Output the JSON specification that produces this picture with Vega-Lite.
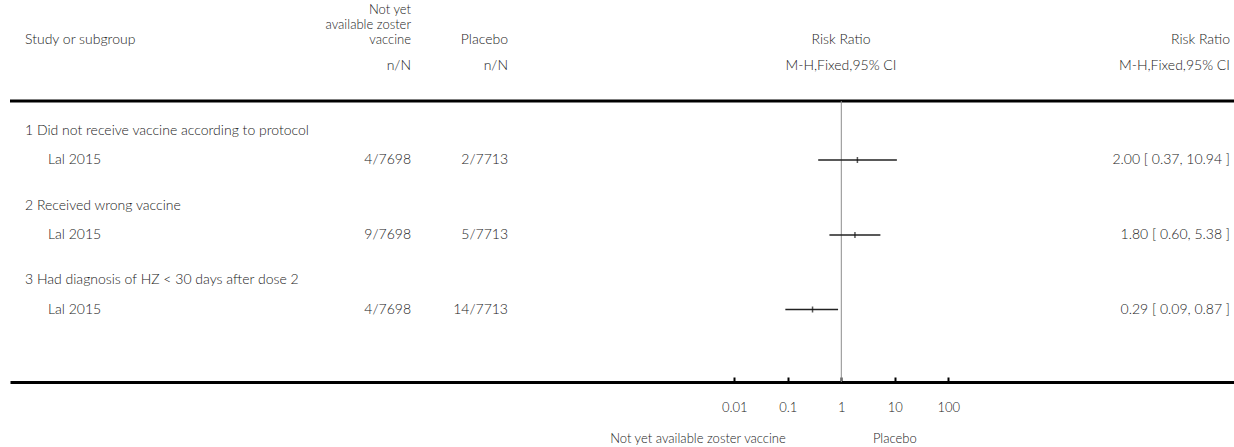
{
  "$schema": "https://vega.github.io/schema/vega-lite/v6.json",
  "width": 1224,
  "height": 447,
  "autosize": {"type": "none"},
  "padding": {"left": 10, "top": 0, "right": 0, "bottom": 0},
  "background": "white",
  "config": {
    "view": {"stroke": null},
    "text": {"font": "Lato", "fontSize": 14, "fontWeight": 300, "color": "#222"}
  },
  "datasets": {
    "header": [
      {"line": 0, "study": "Study or subgroup", "vac": "Not yet\navailable zoster\nvaccine", "pla": "Placebo", "rr": "Risk Ratio", "rr2": "Risk Ratio"},
      {"line": 1, "study": "", "vac": "n/N", "pla": "n/N", "rr": "M-H,Fixed,95% CI", "rr2": "M-H,Fixed,95% CI"}
    ],
    "body": [
      {"line": 3, "kind": "group", "label": "1 Did not receive vaccine according to protocol"},
      {"line": 4, "kind": "study", "label": "Lal 2015", "vac": "4/7698", "pla": "2/7713", "rr": 2.00, "lo": 0.37, "hi": 10.94, "ci": "2.00 [ 0.37, 10.94 ]"},
      {"line": 5, "kind": "group", "label": "2 Received wrong vaccine"},
      {"line": 6, "kind": "study", "label": "Lal 2015", "vac": "9/7698", "pla": "5/7713", "rr": 1.80, "lo": 0.60, "hi": 5.38, "ci": "1.80 [ 0.60, 5.38 ]"},
      {"line": 7, "kind": "group", "label": "3 Had diagnosis of HZ < 30 days after dose 2"},
      {"line": 8, "kind": "study", "label": "Lal 2015", "vac": "4/7698", "pla": "14/7713", "rr": 0.29, "lo": 0.09, "hi": 0.87, "ci": "0.29 [ 0.09, 0.87 ]"}
    ],
    "favours": [
      {"side": "left", "label": "Not yet available zoster vaccine"},
      {"side": "right", "label": "Placebo"}
    ]
  },
  "layer": [
    {
      "layer": [
        {"data": {"name": "header"}, "mark": {"type": "text", "align": "left", "baseline": "middle"},
         "encoding": {
           "x": {"datum": 1, "type": "quantitative", "axis": null, "scale": {"domain": [0,1,2,3,4,5,6,7], "range": [0,15,38,401,498,831,1220,1224], "zero": false, "nice": false}},
           "y": {"field": "line", "type": "quantitative", "axis": null, "scale": {"domain": [0,1,2,3,4,5,6,7,8,9,10,11], "range": [40,66,101,131,160,205.5,235,280,309.5,382,408,439], "zero": false, "nice": false}},
           "text": {"field": "study"}}},
        {"data": {"name": "header"}, "transform": [{"filter": "datum.line == 0"}], "mark": {"type": "text", "align": "right", "baseline": "middle", "dy": -30, "fontSize": 13, "lineBreak": "\n", "lineHeight": 15},
         "encoding": {"x": {"datum": 3, "type": "quantitative"}, "y": {"field": "line", "type": "quantitative"}, "text": {"field": "vac"}}},
        {"data": {"name": "header"}, "transform": [{"filter": "datum.line == 1"}], "mark": {"type": "text", "align": "right", "baseline": "middle"},
         "encoding": {"x": {"datum": 3, "type": "quantitative"}, "y": {"field": "line", "type": "quantitative"}, "text": {"field": "vac"}}},
        {"data": {"name": "header"}, "mark": {"type": "text", "align": "right", "baseline": "middle"},
         "encoding": {"x": {"datum": 4, "type": "quantitative"}, "y": {"field": "line", "type": "quantitative"}, "text": {"field": "pla"}}},
        {"data": {"name": "header"}, "mark": {"type": "text", "align": "center", "baseline": "middle"},
         "encoding": {"x": {"datum": 5, "type": "quantitative"}, "y": {"field": "line", "type": "quantitative"}, "text": {"field": "rr"}}},
        {"data": {"name": "header"}, "mark": {"type": "text", "align": "right", "baseline": "middle"},
         "encoding": {"x": {"datum": 6, "type": "quantitative"}, "y": {"field": "line", "type": "quantitative"}, "text": {"field": "rr2"}}},
        {"data": {"name": "body"}, "transform": [{"filter": "datum.kind == 'group'"}], "mark": {"type": "text", "align": "left", "baseline": "middle"},
         "encoding": {"x": {"datum": 1, "type": "quantitative"}, "y": {"field": "line", "type": "quantitative"}, "text": {"field": "label"}}},
        {"data": {"name": "body"}, "transform": [{"filter": "datum.kind == 'study'"}], "mark": {"type": "text", "align": "left", "baseline": "middle"},
         "encoding": {"x": {"datum": 2, "type": "quantitative"}, "y": {"field": "line", "type": "quantitative"}, "text": {"field": "label"}}},
        {"data": {"name": "body"}, "transform": [{"filter": "datum.kind == 'study'"}], "mark": {"type": "text", "align": "right", "baseline": "middle"},
         "encoding": {"x": {"datum": 3, "type": "quantitative"}, "y": {"field": "line", "type": "quantitative"}, "text": {"field": "vac"}}},
        {"data": {"name": "body"}, "transform": [{"filter": "datum.kind == 'study'"}], "mark": {"type": "text", "align": "right", "baseline": "middle"},
         "encoding": {"x": {"datum": 4, "type": "quantitative"}, "y": {"field": "line", "type": "quantitative"}, "text": {"field": "pla"}}},
        {"data": {"name": "body"}, "transform": [{"filter": "datum.kind == 'study'"}], "mark": {"type": "text", "align": "right", "baseline": "middle"},
         "encoding": {"x": {"datum": 6, "type": "quantitative"}, "y": {"field": "line", "type": "quantitative"}, "text": {"field": "ci"}}}
      ]
    },
    {
      "layer": [
        {"data": {"values": [{}]}, "mark": {"type": "rule", "color": "#000", "strokeWidth": 3},
         "encoding": {"y": {"datum": 2, "type": "quantitative"}}},
        {"data": {"values": [{}]}, "mark": {"type": "rule", "color": "#8c8c8c", "strokeWidth": 1},
         "encoding": {
           "x": {"datum": 1, "type": "quantitative",
                 "scale": {"type": "log", "domain": [2.895e-16, 2.189e7], "nice": false, "zero": false},
                 "axis": {"orient": "bottom", "offset": -65, "values": [0.01, 0.1, 1, 10, 100], "format": "~g", "grid": false, "title": null,
                          "domainColor": "#000", "domainWidth": 3, "tickColor": "#000", "tickWidth": 2, "tickSize": -5,
                          "labelPadding": 24, "labelFont": "Lato", "labelFontSize": 13, "labelFontWeight": 300, "labelColor": "#222", "labelFlush": false, "labelOverlap": false}},
           "y": {"datum": 2, "type": "quantitative"}, "y2": {"datum": 9}}},
        {"data": {"name": "body"}, "transform": [{"filter": "datum.kind == 'study'"}], "mark": {"type": "rule", "color": "#222", "strokeWidth": 1.5},
         "encoding": {"x": {"field": "lo", "type": "quantitative"}, "x2": {"field": "hi"}, "y": {"field": "line", "type": "quantitative"}}},
        {"data": {"name": "body"}, "transform": [{"filter": "datum.kind == 'study'"}], "mark": {"type": "tick", "orient": "vertical", "size": 6, "thickness": 1.5, "color": "#111"},
         "encoding": {"x": {"field": "rr", "type": "quantitative"}, "y": {"field": "line", "type": "quantitative"}}},
        {"data": {"name": "favours"}, "transform": [{"filter": "datum.side == 'left'"}], "mark": {"type": "text", "align": "right", "baseline": "middle", "dx": -2, "fontSize": 13},
         "encoding": {"x": {"datum": 0.1, "type": "quantitative"}, "y": {"datum": 11, "type": "quantitative"}, "text": {"field": "label"}}},
        {"data": {"name": "favours"}, "transform": [{"filter": "datum.side == 'right'"}], "mark": {"type": "text", "align": "center", "baseline": "middle", "fontSize": 13},
         "encoding": {"x": {"datum": 10, "type": "quantitative"}, "y": {"datum": 11, "type": "quantitative"}, "text": {"field": "label"}}}
      ]
    }
  ],
  "resolve": {"scale": {"x": "independent"}, "axis": {"x": "independent"}}
}
